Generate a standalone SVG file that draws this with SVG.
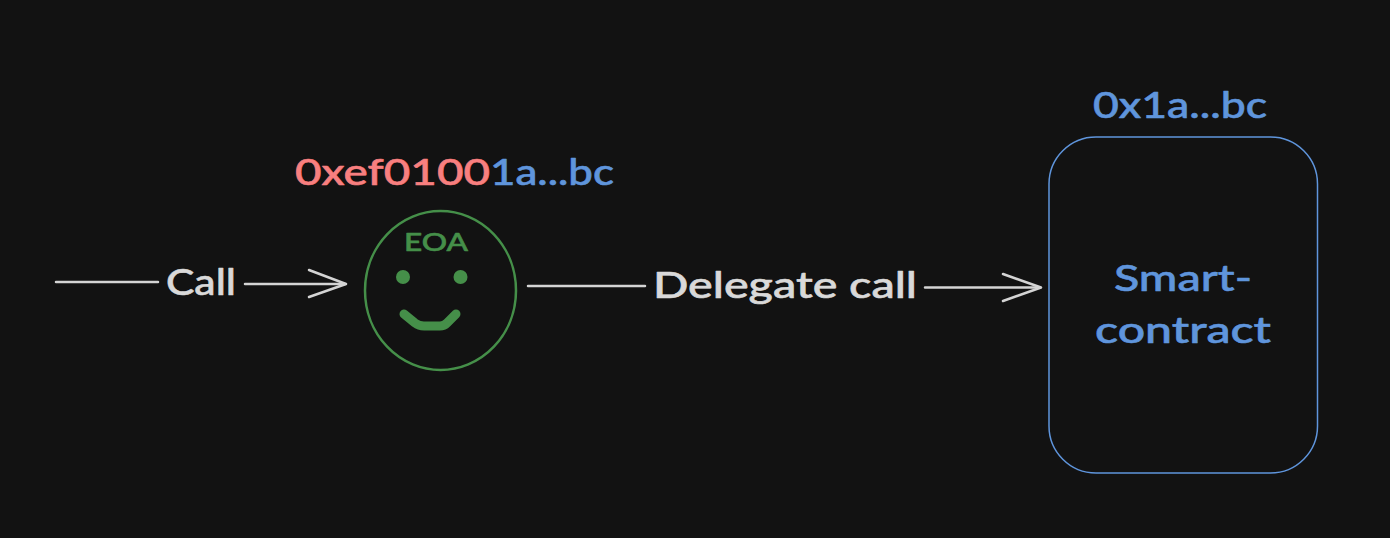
<svg xmlns="http://www.w3.org/2000/svg" width="1390" height="538" viewBox="0 0 1390 538">
<style>
text{font-family:"Lato","Noto Sans",sans-serif;font-weight:500;stroke-width:.6;stroke-linejoin:round}
.w{fill:#d9d9d9;stroke:#d9d9d9}.b{fill:#5f95dc;stroke:#5f95dc}.r{fill:#f87f7f;stroke:#f87f7f}.g{fill:#458f49}
.c{fill:none;stroke:#d4d4d4;stroke-width:2.500;stroke-linecap:round;stroke-linejoin:round}
.t{font-size:37px}
</style>
<rect width="1390" height="538" fill="#121212"/>
<g id="connectors">
<path class="c" d="M56 282H158M245 284H345"/>
<path class="c" d="M309 270L346 284L309 297"/>
<path class="c" d="M528 286H645M925 287.500H1040"/>
<path class="c" d="M1003 274L1041 287.500L1003 301"/>
<text class="w t" x="166" y="295" textLength="70" lengthAdjust="spacingAndGlyphs">Call</text>
<text class="w t" x="653" y="298" textLength="264" lengthAdjust="spacingAndGlyphs">Delegate call</text>
</g>
<g id="eoa">
<ellipse cx="440.500" cy="290.500" rx="75.500" ry="79.500" fill="none" stroke="#458f49" stroke-width="2.500"/>
<text class="g" x="404" y="251" font-size="24" textLength="64" lengthAdjust="spacingAndGlyphs" stroke="#458f49">EOA</text>
<circle class="g" cx="403" cy="277" r="7"/>
<circle class="g" cx="460.500" cy="277" r="7"/>
<path d="M404 314L415 323Q419 326 424 326H440Q444 326 447 323L456 314" fill="none" stroke="#458f49" stroke-width="9" stroke-linecap="round" stroke-linejoin="round"/>
</g>
<g id="eoa-address">
<text class="r t" x="295" y="185" textLength="195" lengthAdjust="spacingAndGlyphs">0xef0100</text>
<text class="b t" x="490" y="185" textLength="124" lengthAdjust="spacingAndGlyphs">1a...bc</text>
</g>
<g id="smart-contract">
<rect x="1049" y="137" width="268.500" height="336" rx="47" fill="none" stroke="#5f95dc" stroke-width="1.500"/>
<text class="b t" x="1114" y="291" textLength="138" lengthAdjust="spacingAndGlyphs">Smart-</text>
<text class="b t" x="1095" y="343" textLength="176" lengthAdjust="spacingAndGlyphs">contract</text>
</g>
<g id="contract-address">
<text class="b t" x="1093" y="118" textLength="174" lengthAdjust="spacingAndGlyphs">0x1a...bc</text>
</g>
</svg>
